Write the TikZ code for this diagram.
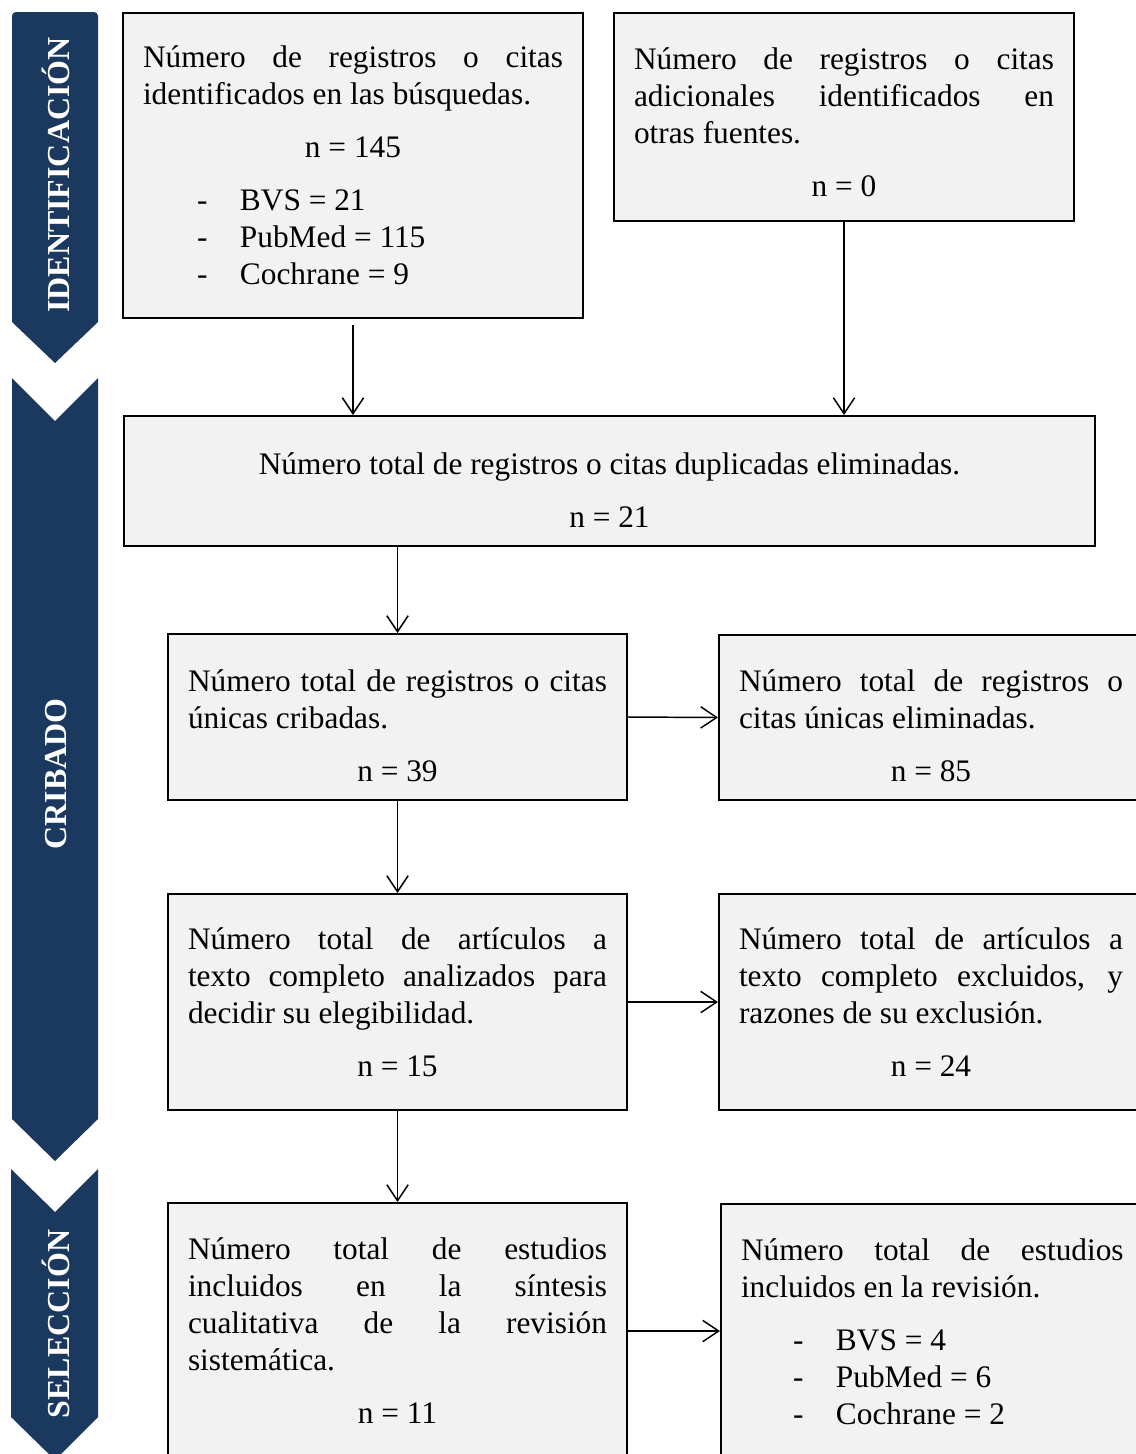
\documentclass[tikz,border=0pt]{standalone}
\usepackage{fontspec}
\setmainfont{Liberation Serif}
\usetikzlibrary{arrows.meta}
\definecolor{azulbanda}{RGB}{27,56,94}
\definecolor{grisfondo}{RGB}{242,242,242}
\hyphenpenalty=10000
\exhyphenpenalty=10000
\tolerance=10000
\hbadness=10000
\newcommand{\lista}[2][40.5pt]{\hspace*{#1}\makebox[32.25pt][l]{-}#2\par}
\newcommand{\alto}[1]{\rule{0pt}{#1}}
\tikzset{
  caja/.style={draw=black, line width=1.5pt, fill=grisfondo, anchor=north west, align=justify,
    inner xsep=15pt, inner ysep=0pt, font=\fontsize{23.5}{27.75}\selectfont},
  flecha/.style={-{Straight Barb[length=12pt,width=16pt]}, line width=1.1pt},
  banda/.style={fill=azulbanda},
  rotulo/.style={text=white, rotate=90, font=\fontsize{24}{28}\selectfont\bfseries},
}
\begin{document}
\begin{tikzpicture}[x=0.75pt, y=-0.75pt]
                        % \helpgrid{3}{3}
                        \path[use as bounding box, clip] (0,0) rectangle (1136,1454);

                        \fill[banda] (12,322) [rounded corners=3pt] -- (12,12) -- (98,12) [sharp corners] -- (98,322) -- (55,363) -- cycle;
                        \fill[banda] (12,378) -- (55,421) -- (98,378) -- (98,1119) -- (55,1161) -- (12,1119) -- cycle;
                        \fill[banda] (11,1169) -- (55,1212) -- (98,1169) -- (98,1417) -- (55,1460) -- (11,1417) -- cycle;
                        \node [rotulo] (ide) at (56,175) {IDENTIFICACIÓN};
                        \node [rotulo] (crib) at (56,774) {CRIBADO};
                        \node [rotulo] (sel) at (56,1324) {SELECCIÓN};

                        \node [caja, text width=315pt, minimum height=228.75pt] (reg) at (122,12)
                            {Número de registros o citas\linebreak identificados en las búsquedas.\par
                            \vspace{12pt}{\centering n = 145\par}\vspace{12pt}%
                            \lista{BVS = 21}\lista{PubMed = 115}\lista{Cochrane = 9}};
                        \node [caja, text width=315pt, minimum height=156pt] (otr) at (613,12)
                            {\alto{24pt}Número de registros o citas\linebreak adicionales identificados en\linebreak otras fuentes.\par
                            \vspace{12pt}{\centering n = 0\par}};
                        \node [caja, text width=698.25pt, minimum height=97.5pt] (dup) at (123,415)
                            {\centering\alto{30pt}Número total de registros o citas duplicadas eliminadas.\par
                            \vspace{12pt}n = 21\par};
                        \node [caja, text width=314.25pt, minimum height=124.5pt] (cri) at (167,633)
                            {\alto{30pt}Número total de registros o citas\linebreak únicas cribadas.\par
                            \vspace{12pt}{\centering n = 39\par}};
                        \node [caja, text width=288pt, minimum height=123.75pt] (eli) at (718,634)
                            {\alto{28pt}Número total de registros o\linebreak citas únicas eliminadas.\par
                            \vspace{12pt}{\centering n = 85\par}};
                        \node [caja, text width=314.25pt, minimum height=162pt] (ana) at (167,893)
                            {Número total de artículos a\linebreak texto completo analizados para\linebreak decidir su elegibilidad.\par
                            \vspace{12pt}{\centering n = 15\par}};
                        \node [caja, text width=288pt, minimum height=162pt] (exc) at (718,893)
                            {Número total de artículos a\linebreak texto completo excluidos, y\linebreak razones de su exclusión.\par
                            \vspace{12pt}{\centering n = 24\par}};
                        \node [caja, text width=314.25pt, minimum height=192pt] (sin) at (167,1202)
                            {Número total de estudios\linebreak incluidos en la síntesis\linebreak cualitativa de la revisión\linebreak sistemática.\par
                            \vspace{12pt}{\centering n = 11\par}};
                        \node [caja, text width=287pt, minimum height=191.25pt] (rev) at (720,1203)
                            {Número total de estudios\linebreak incluidos en la revisión.\par
                            \vspace{12pt}%
                            \lista[39pt]{BVS = 4}\lista[39pt]{PubMed = 6}\lista[39pt]{Cochrane = 2}};

                        \draw [flecha, shorten <=4.5pt] (reg.south) -- (reg.south |- dup.north);
                        \draw [flecha] (otr.south) -- (otr.south |- dup.north);
                        \draw [flecha] (cri.north |- dup.south) -- (cri.north);
                        \draw [flecha] (cri.east) -- (eli.west);
                        \draw [flecha] (cri.south) -- (ana.north);
                        \draw [flecha] (ana.east) -- (exc.west);
                        \draw [flecha] (ana.south) -- (sin.north);
                        \draw [flecha] (sin.east) -- (sin.east -| rev.west);
\end{tikzpicture}
\end{document}
